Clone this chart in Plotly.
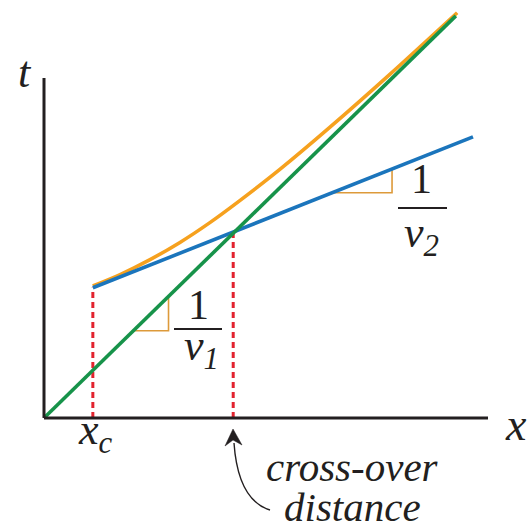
import numpy as np
import plotly.graph_objects as go

# Travel-time curves (x in distance units, t in time units)
x_direct = [0.0, 9.36]
t_direct = [0.0, 9.14]

x_head = [1.11, 9.75]
t_head = [2.96, 6.39]

x_refl = [1.11, 1.73, 2.41, 3.09, 3.77, 4.45, 5.36, 6.50, 7.86, 9.39]
t_refl = [3.00, 3.26, 3.60, 3.99, 4.44, 4.94, 5.65, 6.61, 7.81, 9.21]

x_c = 1.11        # critical distance
x_cross = 4.30    # cross-over distance

# Slope-triangle bases: (start x, run)
tri_direct = (2.03, 0.80)
tri_head = (6.55, 1.36)

# Page geometry: pixel -> data helpers for placing text and decorations
W, H = 527, 530
S = 44.0
X0, Y0 = 44.0, 418.0


def dx(p):
    return (p - X0) / S


def dy(p):
    return (Y0 - p) / S


GREEN = "#17934a"
BLUE = "#1b75bc"
ORANGE = "#f6a11e"
RED = "#e2232f"
TRI = "#dd9a3a"
INK = "#231f20"
SERIF = "Liberation Serif"

fig = go.Figure()

# Axes drawn from the origin
fig.add_shape(type="line", x0=0, y0=0, x1=dx(488), y1=0,
              line=dict(color=INK, width=3))
fig.add_shape(type="line", x0=0, y0=0, x1=0, y1=dy(78),
              line=dict(color=INK, width=3))

# Dashed markers at the critical and cross-over distances
for xv in (x_c, x_cross):
    tv = float(np.interp(xv, x_head, t_head))
    fig.add_trace(go.Scatter(x=[xv, xv], y=[0, tv], mode="lines",
                             line=dict(color=RED, width=3, dash="6px,4px"),
                             hoverinfo="skip", showlegend=False))


# Slope triangles
def slope_triangle(xs, ts, base):
    x0, run = base
    t0 = float(np.interp(x0, xs, ts))
    x1 = x0 + run
    t1 = float(np.interp(x1, xs, ts))
    fig.add_trace(go.Scatter(x=[x0, x1, x1], y=[t0, t0, t1], mode="lines",
                             line=dict(color=TRI, width=1.6),
                             hoverinfo="skip", showlegend=False))


slope_triangle(x_direct, t_direct, tri_direct)
slope_triangle(x_head, t_head, tri_head)

# Reflected, head and direct arrivals
fig.add_trace(go.Scatter(x=x_refl, y=t_refl, mode="lines",
                         line=dict(color=ORANGE, width=3.6, shape="spline", smoothing=0.8),
                         hoverinfo="skip", showlegend=False))
fig.add_trace(go.Scatter(x=x_head, y=t_head, mode="lines",
                         line=dict(color=BLUE, width=3.6),
                         hoverinfo="skip", showlegend=False))
fig.add_trace(go.Scatter(x=x_direct, y=t_direct, mode="lines",
                         line=dict(color=GREEN, width=3.6),
                         hoverinfo="skip", showlegend=False))

# Fraction bars for the slope labels
for (a, b, yy) in ((174, 222, 329), (398, 447, 208)):
    fig.add_shape(type="line", x0=dx(a), x1=dx(b), y0=dy(yy), y1=dy(yy),
                  line=dict(color=INK, width=2))

# Curved pointer to the cross-over distance
fig.add_shape(type="path",
              path=f"M {dx(234)} {dy(443)} Q {dx(238)} {dy(500)} {dx(270)} {dy(510)}",
              line=dict(color=INK, width=1.4))
fig.add_shape(type="path",
              path=(f"M {dx(233)} {dy(429)} L {dx(242)} {dy(445)} L {dx(233)} {dy(440)} "
                    f"L {dx(225)} {dy(446)} Z"),
              line=dict(color=INK, width=0.5), fillcolor=INK)


def label(text, px_, py_, size, family=SERIF):
    fig.add_annotation(x=dx(px_), y=dy(py_), text=text, showarrow=False,
                       xanchor="center", yanchor="middle", borderpad=0,
                       font=dict(family=family, size=size, color=INK))


label("<i>t</i>", 25, 72, 44)
label("<i>x</i>", 516, 424, 46)
label("<i>x<sub>c</sub></i>", 95, 432, 44)
label("1", 198, 305, 42)
label("<i>v<sub>1</sub></i>", 201, 348, 44)
label("1", 421, 179, 42)
label("<i>v<sub>2</sub></i>", 421, 235, 44)
label("<i>cross-over</i>", 352, 467, 41)
label("<i>distance</i>", 352, 507, 41)

fig.update_layout(
    width=W, height=H,
    margin=dict(l=0, r=0, t=0, b=0),
    paper_bgcolor="white", plot_bgcolor="white",
    font=dict(family=SERIF),
    xaxis=dict(range=[dx(0), dx(W)], visible=False, fixedrange=True),
    yaxis=dict(range=[dy(H), dy(0)], visible=False, fixedrange=True),
    showlegend=False,
)

fig.write_html("out.html")
